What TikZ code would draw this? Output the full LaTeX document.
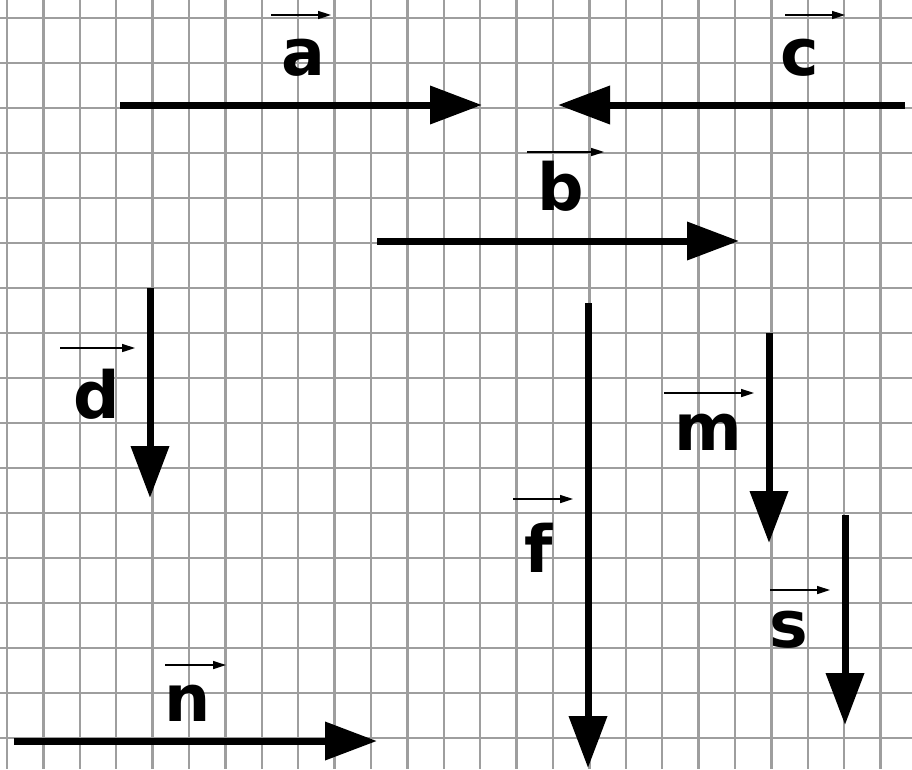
\documentclass[tikz,border=0pt]{standalone}
\usepackage{fontspec}
\setmainfont{DejaVu Sans}
\usetikzlibrary{arrows.meta}
\begin{document}
\begin{tikzpicture}[x=1pt,y=-1pt,
  gridline/.style={draw=black!38,line width=2.4pt},
  vec/.style={line width=7pt,-{Triangle[length=52pt,width=37pt]}},
  tinyvec/.style={line width=1.6pt,-{Triangle[length=13pt,width=8pt]}},
  lbl/.style={anchor=base,inner sep=0pt,font=\fontsize{65}{65}\selectfont\bfseries}]
\fill[white] (0,0) rectangle (912,769);
\useasboundingbox (0,0) rectangle (912,769);
\begin{scope}
\clip (0,0) rectangle (912,769);
\foreach \k in {0,...,25} {\draw[gridline] ({7+36.4*\k},0) -- ({7+36.4*\k},769);}
\foreach \k in {0,...,17} {\draw[gridline] (0,{18+45*\k}) -- (912,{18+45*\k});}
\end{scope}
% main vectors
\coordinate (a0) at (120,105); \coordinate (a1) at (482,105);
\coordinate (c0) at (905,105); \coordinate (c1) at (558,105);
\coordinate (b0) at (377,241); \coordinate (b1) at (739,241);
\coordinate (d0) at (150,288); \coordinate (d1) at (150,498);
\coordinate (f0) at (588,303); \coordinate (f1) at (588,768);
\coordinate (m0) at (769,333); \coordinate (m1) at (769,543);
\coordinate (s0) at (845,515); \coordinate (s1) at (845,725);
\coordinate (n0) at (14,741);  \coordinate (n1) at (377,741);
\foreach \v in {a,c,b,d,f,m,s,n} {\draw[vec] (\v0) -- (\v1);}
% labels
\node[lbl] (la) at (303,75) {a};
\node[lbl] (lc) at (800,75) {c};
\node[lbl] (lb) at (561,210) {b};
\node[lbl] (ld) at (97,418) {d};
\node[lbl] (lm) at (708,450) {m};
\node[lbl] (lf) at (539,572) {f};
\node[lbl] (ls) at (789,647) {s};
\node[lbl] (ln) at (188,721) {n};
% small vector marks
\coordinate (ta0) at (271,15); \coordinate (ta1) at (331,15);
\coordinate (tc0) at (785,15); \coordinate (tc1) at (845,15);
\coordinate (tb0) at (527,152); \coordinate (tb1) at (604,152);
\coordinate (td0) at (60,348); \coordinate (td1) at (135,348);
\coordinate (tm0) at (664,393); \coordinate (tm1) at (754,393);
\coordinate (tf0) at (513,499); \coordinate (tf1) at (573,499);
\coordinate (ts0) at (770,590); \coordinate (ts1) at (830,590);
\coordinate (tn0) at (165,665); \coordinate (tn1) at (226,665);
\foreach \v in {a,c,b,d,m,f,s,n} {\draw[tinyvec] (t\v0) -- (t\v1);}
\end{tikzpicture}
\end{document}
